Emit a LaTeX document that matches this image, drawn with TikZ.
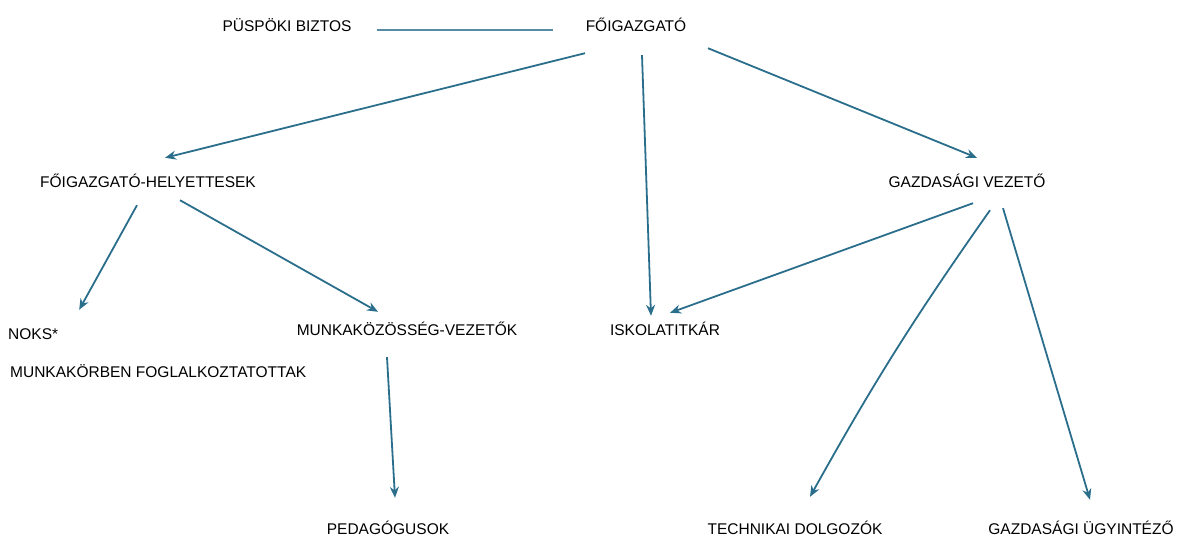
\documentclass[tikz,border=0pt]{standalone}
\usepackage{fontspec}
\setmainfont{Liberation Sans}
\usetikzlibrary{arrows.meta}
\definecolor{orgline}{HTML}{2B6E8C}

\begin{document}
\begin{tikzpicture}[x=1pt,y=-1pt,>={Stealth[length=11pt,width=9pt]},
  box/.style={inner sep=0pt,text height=11pt,text depth=0pt,font=\fontsize{15.5}{18}\selectfont},
  conn/.style={->,line width=1.8pt,color=orgline}]
\useasboundingbox (0,0) rectangle (1182,538);
\node[box] (pb) at (287,26) {PÜSPÖKI BIZTOS};
\node[box] (fo) at (636,26) {FŐIGAZGATÓ};
\node[box] (fh) at (148,182) {FŐIGAZGATÓ-HELYETTESEK};
\node[box] (gv) at (967,182) {GAZDASÁGI VEZETŐ};
\node[box,anchor=west] (noks) at (8,334) {NOKS*};
\node[box,anchor=west] (mk) at (10,372) {MUNKAKÖRBEN FOGLALKOZTATOTTAK};
\node[box] (mv) at (407,330) {MUNKAKÖZÖSSÉG-VEZETŐK};
\node[box] (ik) at (665,330) {ISKOLATITKÁR};
\node[box] (pe) at (388,529) {PEDAGÓGUSOK};
\node[box] (td) at (795,529) {TECHNIKAI DOLGOZÓK};
\node[box] (gu) at (1081,529) {GAZDASÁGI ÜGYINTÉZŐ};
% connectors
\draw[line width=2.2pt,color=orgline!80] ([shift={(25,4)}]pb.east) -- ([shift={(-33,4)}]fo.west);
\draw[conn] ([shift={(-51,21.5)}]fo.south) -- ([shift={(17,-18.5)}]fh.north);
\draw[conn] ([shift={(6,23.5)}]fo.south) -- ([shift={(-14,-8.5)}]ik.north);
\draw[conn] ([shift={(72,16.5)}]fo.south) -- ([shift={(10,-18.5)}]gv.north);
\draw[conn] ([shift={(-11,17.5)}]fh.south) -- ([shift={(46,-18.5)}]noks.north);
\draw[conn] ([shift={(32,12.5)}]fh.south) -- ([shift={(-29,-12.5)}]mv.north);
\draw[conn] ([shift={(-20,21.5)}]mv.south) -- ([shift={(7,-25.5)}]pe.north);
\draw[conn] ([shift={(6,15.5)}]gv.south) -- ([shift={(5,-11.5)}]ik.north);
\draw[conn] ([shift={(23,22.5)}]gv.south) to[bend right=3] ([shift={(15,-26.5)}]td.north);
\draw[conn] ([shift={(36,20.5)}]gv.south) -- ([shift={(9,-23.5)}]gu.north);
\end{tikzpicture}
\end{document}
